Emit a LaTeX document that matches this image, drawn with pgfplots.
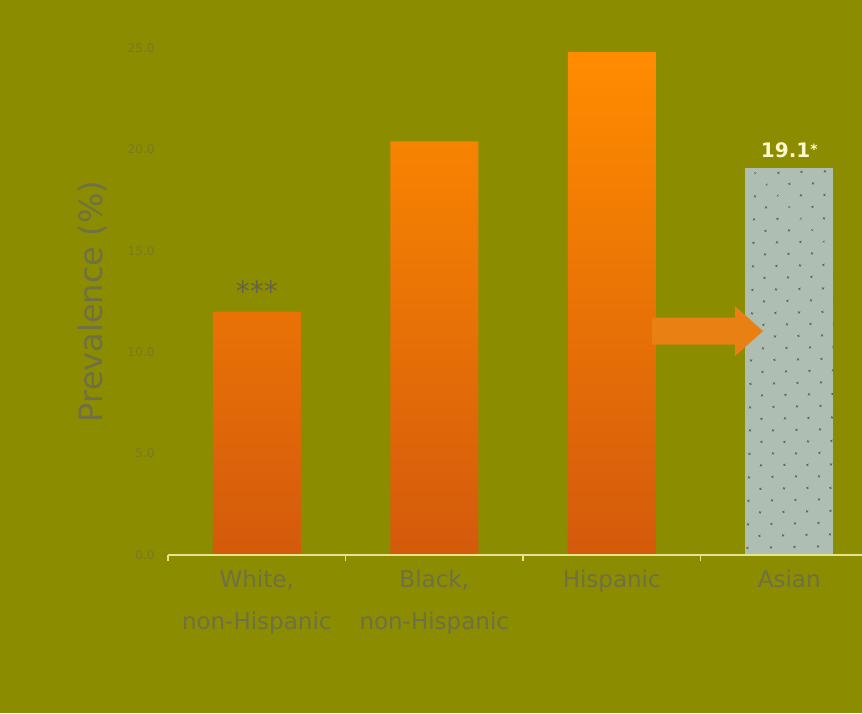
\documentclass[border=0pt]{standalone}
\usepackage{fontspec}
\setmainfont{DejaVu Sans}
\usepackage{pgfplots}
\pgfplotsset{compat=1.18}
\usetikzlibrary{patterns.meta}
\definecolor{bg}{RGB}{139,140,0}
\definecolor{tickc}{RGB}{122,122,34}
\definecolor{labc}{RGB}{112,112,70}
\definecolor{starc}{RGB}{100,100,78}
\definecolor{axc}{RGB}{230,228,140}
\definecolor{or1}{RGB}{255,140,0}
\definecolor{or2}{RGB}{212,90,12}
\definecolor{asian}{RGB}{174,190,178}
\definecolor{dotc}{RGB}{95,105,95}
\definecolor{arrc}{RGB}{232,128,20}
\definecolor{valc}{RGB}{250,246,205}
\begin{document}
\begin{tikzpicture}[x=1pt,y=1pt]
\fill[bg] (0,0) rectangle (862,713);
\begin{axis}[
  at={(168pt,158pt)}, anchor=south west, scale only axis,
  width=710pt, height=507pt,
  xmin=-0.5, xmax=3.5, ymin=0, ymax=25,
  axis line style={draw=none},
  clip=false,
  ytick={0,5,10,15,20,25},
  yticklabels={0.0,5.0,10.0,15.0,20.0,25.0},
  ytick style={draw=none},
  yticklabel style={font=\fontsize{12}{14}\selectfont, text=tickc, xshift=-10pt},
  xtick={0,1,2,3},
  xticklabels={{White,\\non-Hispanic},{Black,\\non-Hispanic},Hispanic,Asian},
  xticklabel style={align=center, font=\fontsize{23}{42}\selectfont, text=labc, yshift=-7pt},
  major x tick style={draw=none},
  minor xtick={-0.5,0.5,1.5,2.5,3.5},
  minor x tick style={draw=axc, line width=1.5pt},
  minor tick length=6pt,
  xtick pos=bottom, ytick pos=left,
  ylabel={Prevalence (\%)},
  ylabel style={at={(axis description cs:-0.106,0.5)}, anchor=center, font=\fontsize{32}{36}\selectfont, text=labc},
  ybar, bar width=88pt, bar shift=0pt,
]
\addplot[draw=none, top color=or1, bottom color=or2] coordinates {(0,12.0) (1,20.4) (2,24.8)};
\addplot[draw=none, fill=asian, postaction={pattern={Dots[distance=17pt, radius=1.4pt, angle=45]}, pattern color=dotc}] coordinates {(3,19.1)};
\draw[axc, line width=2pt] (axis cs:-0.5,0) -- (axis cs:3.5,0);
\fill[arrc] (axis cs:2.227,10.37) -- (axis cs:2.694,10.37) -- (axis cs:2.694,9.80) -- (axis cs:2.852,11.04) -- (axis cs:2.694,12.28) -- (axis cs:2.694,11.71) -- (axis cs:2.227,11.71) -- cycle;
\node[text=starc, font=\fontsize{28}{30}\selectfont] at (axis cs:0,13.0) {***};
\node[text=valc, font=\fontsize{20}{22}\selectfont\bfseries] at (axis cs:3,19.95) {19.1\raisebox{0.3ex}{\fontsize{14}{14}\selectfont*}};
\end{axis}
\pgfresetboundingbox
\useasboundingbox (0,0) rectangle (862,713);
\end{tikzpicture}
\end{document}
